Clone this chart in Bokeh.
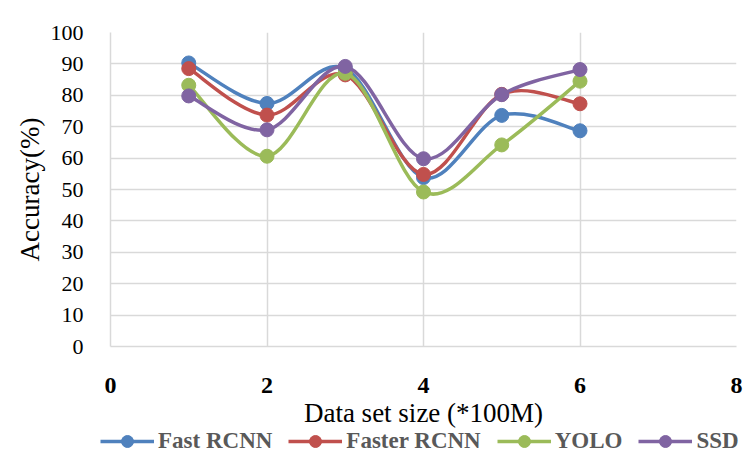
from bokeh.plotting import figure
from bokeh.layouts import column
from bokeh.models import Legend, LegendItem, FixedTicker, Range1d
from bokeh.embed import file_html
from bokeh.resources import INLINE

# ---- data ----
x_vals = [1, 2, 3, 4, 5, 6]
fast_rcnn = [90.3, 77.4, 88.5, 53.8, 73.6, 68.7]
faster_rcnn = [88.5, 73.7, 86.5, 54.8, 80.3, 77.3]
yolo = [83.2, 60.6, 87.0, 49.2, 64.2, 84.5]
ssd = [79.8, 69.0, 89.2, 59.8, 80.2, 88.2]
series_names = ["Fast RCNN", "Faster RCNN", "YOLO", "SSD"]
series_colors = ["#4F81BD", "#C0504D", "#9BBB59", "#8064A2"]
x_ticks = [0, 2, 4, 6, 8]
y_ticks = [0, 10, 20, 30, 40, 50, 60, 70, 80, 90, 100]

FONT = "Liberation Serif"
GRID = "#D9D9D9"

p = figure(width=752, height=433, output_backend="svg", toolbar_location=None,
           x_range=Range1d(0, 8), y_range=Range1d(0, 100),
           min_border_left=110, min_border_right=16, min_border_top=32,
           min_border_bottom=87)
p.outline_line_color = None
p.background_fill_color = "white"
p.border_fill_color = "white"
p.frame_align = False

# grids
p.xgrid.ticker = FixedTicker(ticks=x_ticks)
p.ygrid.ticker = FixedTicker(ticks=y_ticks)
for g in (p.xgrid, p.ygrid):
    g.grid_line_color = GRID
    g.grid_line_width = 1.5

# axes
p.xaxis.ticker = FixedTicker(ticks=x_ticks)
p.yaxis.ticker = FixedTicker(ticks=y_ticks)
for ax in (p.xaxis, p.yaxis):
    ax.axis_line_color = GRID
    ax.axis_line_width = 1.5
    ax.major_tick_line_color = None
    ax.minor_tick_line_color = None
    ax.major_label_text_font = FONT
    ax.major_label_text_color = "black"
    ax.axis_label_text_font = FONT
    ax.axis_label_text_font_style = "normal"
    ax.axis_label_text_color = "black"
    ax.axis_label_text_font_size = "27px"

p.xaxis.axis_label = "Data set size (*100M)"
p.xaxis.major_label_text_font_size = "24px"
p.xaxis.major_label_text_font_style = "bold"
p.xaxis.major_label_standoff = 25
p.xaxis.axis_label_standoff = 2

p.yaxis.axis_label = "Accuracy(%)"
p.yaxis.major_label_text_font_size = "22px"
p.yaxis.major_label_standoff = 21
p.yaxis.axis_label_standoff = 3


def smooth_segments(xs, ys):
    n = len(xs)
    out = dict(x0=[], y0=[], x1=[], y1=[], cx0=[], cy0=[], cx1=[], cy1=[])
    for i in range(n - 1):
        ip = i - 1 if i > 0 else i
        inn = i + 2 if i + 2 < n else i + 1
        out["x0"].append(xs[i]); out["y0"].append(ys[i])
        out["x1"].append(xs[i + 1]); out["y1"].append(ys[i + 1])
        out["cx0"].append(xs[i] + (xs[i + 1] - xs[ip]) / 6)
        out["cy0"].append(ys[i] + (ys[i + 1] - ys[ip]) / 6)
        out["cx1"].append(xs[i + 1] - (xs[inn] - xs[i]) / 6)
        out["cy1"].append(ys[i + 1] - (ys[inn] - ys[i]) / 6)
    return out


# legend strip below the chart (its glyphs lie outside its visible range)
leg = figure(width=752, height=34, output_backend="svg", toolbar_location=None,
             x_range=Range1d(-20, -19), y_range=Range1d(-20, -19),
             x_axis_type=None, y_axis_type=None,
             min_border_left=0, min_border_right=0, min_border_top=0,
             min_border_bottom=0)
leg.outline_line_color = None
leg.grid.visible = False
leg.background_fill_alpha = 0
leg.border_fill_alpha = 0
leg.frame_align = False
leg.styles = {"margin-top": "-8px"}

items = []
for name, ys, col in zip(series_names, [fast_rcnn, faster_rcnn, yolo, ssd], series_colors):
    seg = smooth_segments(x_vals, ys)
    p.bezier(line_color=col, line_width=3.5, **seg)
    p.scatter(x=x_vals, y=ys, size=14, fill_color=col, line_color=col)
    lb = leg.bezier(line_color=col, line_width=3.5, **seg)
    ls = leg.scatter(x=x_vals, y=ys, size=14, fill_color=col, line_color=col)
    items.append(LegendItem(label=name, renderers=[lb, ls]))

legend = Legend(items=items, orientation="horizontal", location=(100, 3),
                glyph_width=54, glyph_height=30, label_standoff=4, spacing=16,
                padding=0, margin=0, border_line_color=None,
                background_fill_alpha=0,
                label_text_font=FONT, label_text_font_style="bold",
                label_text_font_size="23px", label_text_color="#595959")
leg.add_layout(legend, "center")

layout = column(p, leg, spacing=0)
open("out.html", "w").write(file_html(layout, INLINE))
